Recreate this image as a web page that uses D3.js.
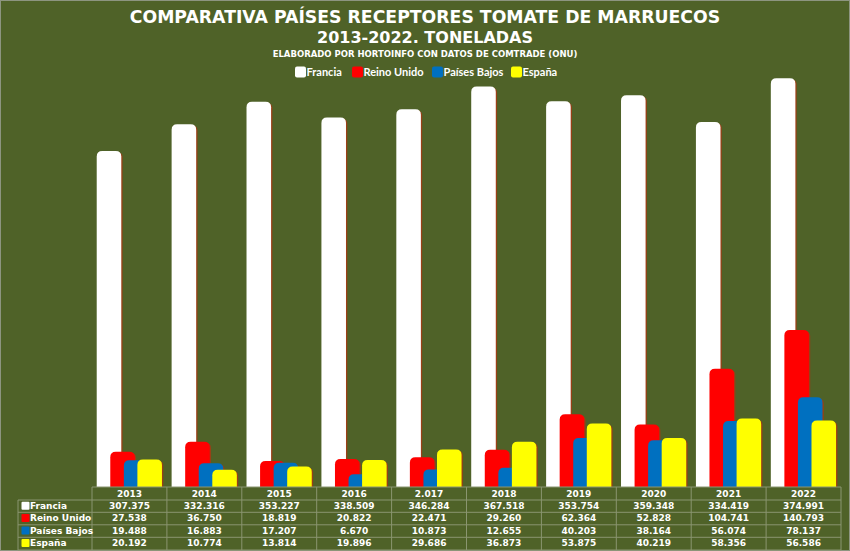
<!DOCTYPE html>
<html>
<head>
<meta charset="utf-8">
<title>Comparativa países receptores tomate de Marruecos</title>
<script src="https://d3js.org/d3.v7.min.js"></script>
<style>
  body { margin: 0; background: #ffffff; }
  svg { display: block; }
</style>
</head>
<body>
<svg id="chart" width="850" height="551"></svg>
<script>
// datos (toneladas)
var years = ["2013", "2014", "2015", "2016", "2.017", "2018", "2019", "2020", "2021", "2022"];
var seriesNames = ["Francia", "Reino Unido", "Países Bajos", "España"];
var francia     = [307375, 332316, 353227, 338509, 346284, 367518, 353754, 359348, 334419, 374991];
var reinoUnido  = [27538, 36750, 18819, 20822, 22471, 29260, 62364, 52828, 104741, 140793];
var paisesBajos = [19488, 16883, 17207, 6670, 10873, 12655, 40203, 38164, 56074, 78137];
var espana      = [20192, 10774, 13814, 19896, 29686, 36873, 53875, 40219, 58356, 56586];
var colors = ["#FFFFFF", "#FF0000", "#0070C0", "#FFFF00"];

var values = [francia, reinoUnido, paisesBajos, espana];

var width = 850, height = 551;
var bg = "#4F6228";
var gridColor = "#8a9570";

var svg = d3.select("#chart");

svg.append("rect")
  .attr("x", 0.5).attr("y", 0.5)
  .attr("width", width - 1).attr("height", height - 1)
  .attr("fill", bg)
  .attr("stroke", "#8d9580");

// titulos
var titleFont = "'DejaVu Sans', Verdana, sans-serif";
svg.append("text")
  .attr("x", 425).attr("y", 23)
  .attr("text-anchor", "middle")
  .attr("fill", "#fff")
  .style("font-family", titleFont).style("font-weight", "bold").style("font-size", "17.3px")
  .text("COMPARATIVA PAÍSES RECEPTORES TOMATE DE MARRUECOS");
svg.append("text")
  .attr("x", 425).attr("y", 43)
  .attr("text-anchor", "middle")
  .attr("fill", "#fff")
  .style("font-family", titleFont).style("font-weight", "bold").style("font-size", "16px")
  .text("2013-2022. TONELADAS");
svg.append("text")
  .attr("x", 425).attr("y", 56.5)
  .attr("text-anchor", "middle")
  .attr("fill", "#fff")
  .style("font-family", titleFont).style("font-weight", "bold").style("font-size", "8.5px")
  .text("ELABORADO POR HORTOINFO CON DATOS DE COMTRADE (ONU)");

// leyenda
var legendX = [295, 352, 432, 511];
var legend = svg.append("g");
seriesNames.forEach(function(name, i) {
  legend.append("rect")
    .attr("x", legendX[i]).attr("y", 66.5)
    .attr("width", 11).attr("height", 11)
    .attr("rx", 2)
    .attr("fill", colors[i]);
  legend.append("text")
    .attr("x", legendX[i] + 11.5).attr("y", 76)
    .attr("fill", "#fff")
    .style("font-family", "Lato, sans-serif").style("font-weight", "bold").style("font-size", "11px")
    .text(name);
});

// escalas
var x = d3.scaleBand()
  .domain(years)
  .range([92, 841]);

var y = d3.scaleLinear()
  .domain([-5300, 400000])
  .range([487, 51.5]);

var barW = x.bandwidth() * 0.328;
var barStep = x.bandwidth() * 0.181;
var barPad = x.bandwidth() * 0.063;
var r = 5.5;

function barPath(x0, y0, w, y1) {
  var h = y1 - y0;
  var rr = Math.min(r, h, w / 2);
  return "M" + x0 + "," + y1 +
    "V" + (y0 + rr) +
    "Q" + x0 + "," + y0 + " " + (x0 + rr) + "," + y0 +
    "H" + (x0 + w - rr) +
    "Q" + (x0 + w) + "," + y0 + " " + (x0 + w) + "," + (y0 + rr) +
    "V" + y1 + "Z";
}

var bars = svg.append("g");
values.forEach(function(serie, s) {
  var g = bars.append("g").attr("class", "series");
  g.selectAll("path.shadow")
    .data(serie)
    .enter().append("path")
    .attr("class", "shadow")
    .attr("fill", "#9a3f16")
    .attr("d", function(d, i) {
      return barPath(x(years[i]) + barPad + s * barStep + 1.3, y(d) + 1, barW, y.range()[0]);
    });
  g.selectAll("path.bar")
    .data(serie)
    .enter().append("path")
    .attr("class", "bar")
    .attr("fill", colors[s])
    .attr("d", function(d, i) {
      return barPath(x(years[i]) + barPad + s * barStep, y(d), barW, y.range()[0]);
    });
});

// tabla de datos
var fmt = d3.formatLocale({ decimal: ",", thousands: ".", grouping: [3], currency: ["", "€"] }).format(",d");
var tableFont = "'DejaVu Sans', Verdana, sans-serif";
var rowLines = [487, 500, 512.3, 524.8, 537.3, 550];
var table = svg.append("g");

// lineas horizontales
rowLines.forEach(function(ly, i) {
  table.append("line")
    .attr("x1", i === 0 ? 92 : 18)
    .attr("x2", 841)
    .attr("y1", ly).attr("y2", ly)
    .attr("stroke", gridColor).attr("stroke-width", 1);
});
// lineas verticales
years.forEach(function(yr) {
  table.append("line")
    .attr("x1", x(yr)).attr("x2", x(yr))
    .attr("y1", 487).attr("y2", 550)
    .attr("stroke", gridColor);
});
table.append("line")
  .attr("x1", 841).attr("x2", 841)
  .attr("y1", 487).attr("y2", 550)
  .attr("stroke", gridColor);
table.append("line")
  .attr("x1", 18).attr("x2", 18)
  .attr("y1", 500).attr("y2", 550)
  .attr("stroke", gridColor);

// cabecera
table.selectAll("text.year")
  .data(years)
  .enter().append("text")
  .attr("class", "year")
  .attr("x", function(d) { return x(d) + x.bandwidth() / 2; })
  .attr("y", 496.5)
  .attr("text-anchor", "middle")
  .attr("fill", "#fff")
  .style("font-family", tableFont).style("font-weight", "bold").style("font-size", "9px")
  .text(function(d) { return d; });

values.forEach(function(serie, s) {
  var rowY = rowLines[s + 1] + 9;
  table.append("rect")
    .attr("x", 21.5).attr("y", rowLines[s + 1] + 1.8)
    .attr("width", 8).attr("height", 8)
    .attr("rx", 1)
    .attr("fill", colors[s]);
  table.append("text")
    .attr("x", 30).attr("y", rowY)
    .attr("fill", "#fff")
    .style("font-family", tableFont).style("font-weight", "bold").style("font-size", "9px")
    .text(seriesNames[s]);
  table.selectAll("text.v" + s)
    .data(serie)
    .enter().append("text")
    .attr("class", "v" + s)
    .attr("x", function(d, i) { return x(years[i]) + x.bandwidth() / 2; })
    .attr("y", rowY)
    .attr("text-anchor", "middle")
    .attr("fill", "#fff")
    .style("font-family", tableFont).style("font-weight", "bold").style("font-size", "9px")
    .text(function(d) { return fmt(d); });
});
</script>
</body>
</html>
